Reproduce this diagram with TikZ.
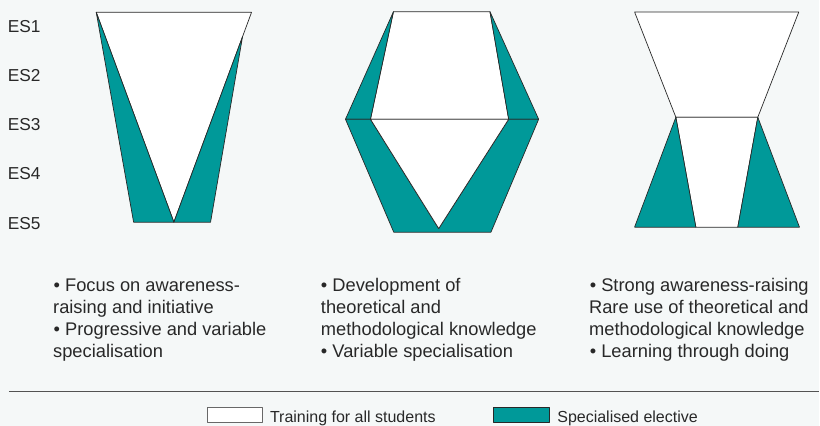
\documentclass[tikz,border=0pt]{standalone}
\usepackage{fontspec}
\setmainfont{Liberation Sans}
\usepackage{xcolor}
\definecolor{paper}{RGB}{245,248,248}
\definecolor{elective}{RGB}{0,153,153}
\definecolor{outline}{RGB}{40,40,40}
\tikzset{
	common/.style={fill=white,draw=outline,line width=0.7pt,line join=round},
	spec/.style={fill=elective,draw=outline,line width=0.7pt,line join=round},
	level/.style={anchor=base west,inner sep=0pt,font=\fontsize{17.3}{20}\selectfont,text=outline},
	remark/.style={anchor=base west,inner sep=0pt,font=\fontsize{18.3}{22}\selectfont,text=outline},
	keytext/.style={anchor=base west,inner sep=0pt,font=\fontsize{16}{19}\selectfont,text=outline}
}

\begin{document}
\begin{tikzpicture}[x=1pt,y=-1pt]
	\fill[paper] (0,0) rectangle (820,426) ;
	% levels
	\node[level] (es1) at (7.6,32.3) {ES1} ;
	\node[level] (es2) at (7.6,81.6) {ES2} ;
	\node[level] (es3) at (7.6,130.8) {ES3} ;
	\node[level] (es4) at (7.6,180.0) {ES4} ;
	\node[level] (es5) at (7.6,229.2) {ES5} ;
	% first model
	\draw[common] (96.3,12.3) -- (251.7,12.3) -- (242.7,36.7) -- (174.0,222.3) -- cycle ;
	\draw[spec] (96.3,12.3) -- (174.0,222.3) -- (133.7,222.3) -- cycle ;
	\draw[spec] (242.7,36.7) -- (210.7,222.3) -- (174.0,222.3) -- cycle ;
	% second model
	\draw[common] (393.7,11.7) -- (490.3,11.7) -- (509.0,119.3) -- (370.7,119.3) -- cycle ;
	\draw[spec] (393.7,11.7) -- (370.7,119.3) -- (345.7,119.3) -- cycle ;
	\draw[spec] (490.3,11.7) -- (539.0,119.3) -- (509.0,119.3) -- cycle ;
	\draw[spec] (345.7,119.3) -- (370.7,119.3) -- (439.0,228.7) -- (509.0,119.3) -- (539.0,119.3) -- (491.3,232.3) -- (394.0,232.3) -- cycle ;
	\draw[common] (370.7,119.3) -- (509.0,119.3) -- (439.0,228.7) -- cycle ;
	% third model
	\draw[common] (635.0,12.0) -- (799.3,12.0) -- (758.3,117.3) -- (676.3,117.3) -- cycle ;
	\draw[common] (676.3,117.3) -- (758.3,117.3) -- (738.3,227.3) -- (696.3,227.3) -- cycle ;
	\draw[spec] (676.3,117.3) -- (696.3,227.3) -- (635.0,227.3) -- cycle ;
	\draw[spec] (758.3,117.3) -- (800.0,227.3) -- (738.3,227.3) -- cycle ;
	% remarks
	\node[remark] (a1) at (53.5,291.5) {• Focus on awareness-} ;
	\node[remark] (a2) at (53.0,313.5) {raising and initiative} ;
	\node[remark] (a3) at (53.5,335.5) {• Progressive and variable} ;
	\node[remark] (a4) at (53.0,357.5) {specialisation} ;
	\node[remark] (b1) at (321.0,291.5) {• Development of} ;
	\node[remark] (b2) at (321.0,313.5) {theoretical and} ;
	\node[remark] (b3) at (321.0,335.5) {methodological knowledge} ;
	\node[remark] (b4) at (321.0,357.5) {• Variable specialisation} ;
	\node[remark] (c1) at (590.0,291.5) {• Strong awareness-raising} ;
	\node[remark] (c2) at (589.3,313.5) {Rare use of theoretical and} ;
	\node[remark] (c3) at (589.3,335.5) {methodological knowledge} ;
	\node[remark] (c4) at (590.0,357.5) {• Learning through doing} ;
	% key
	\draw[outline!80,line width=1.1pt] (9,392) -- (820,392) ;
	\draw[common,line width=0.6pt,draw=outline!70] (207.3,407.3) rectangle (262.7,422.7) ;
	\node[keytext] (k1) at (270.0,422.5) {Training for all students} ;
	\draw[spec,line width=0.6pt] (494.0,407.3) rectangle (549.3,422.7) ;
	\node[keytext] (k2) at (557.5,422.5) {Specialised elective} ;
\end{tikzpicture}
\end{document}
